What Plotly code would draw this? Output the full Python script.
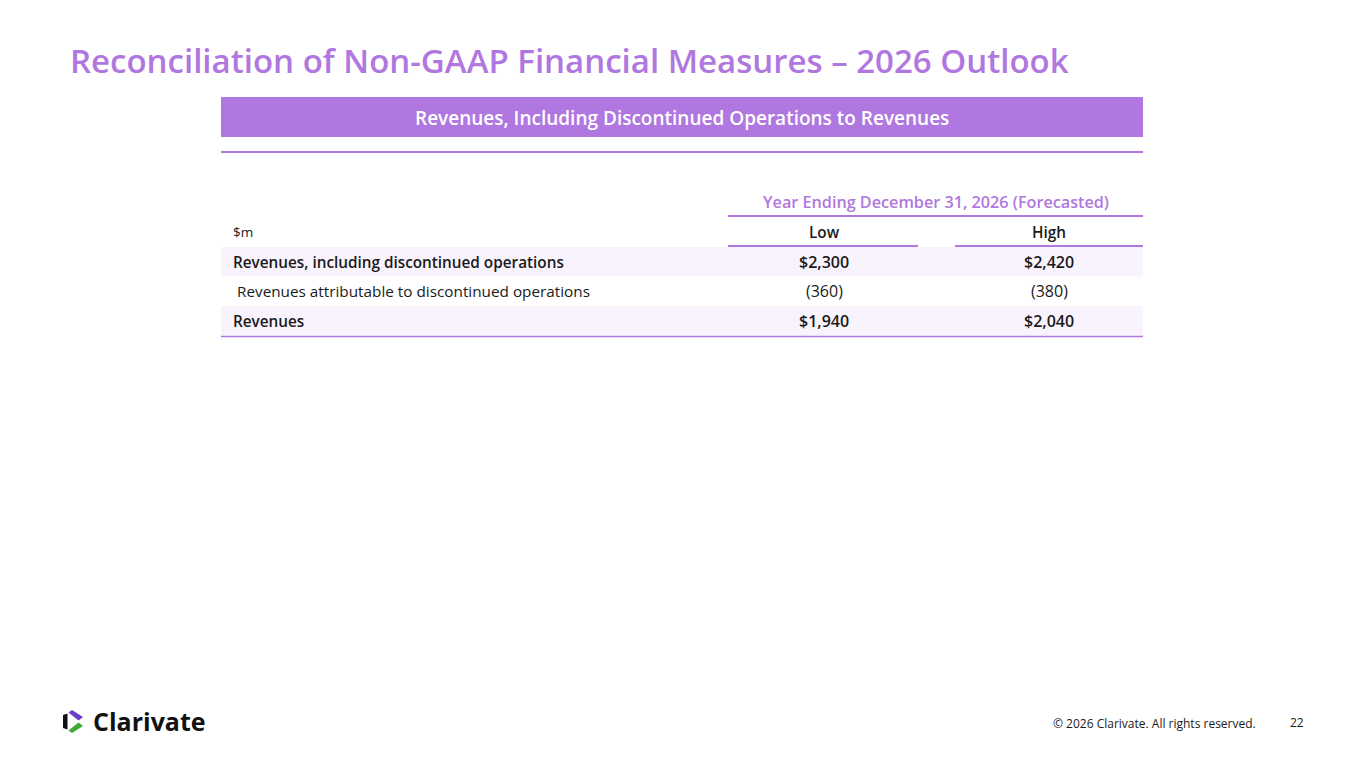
import plotly.graph_objects as go

# ---- data ----
title_text = "Reconciliation of Non-GAAP Financial Measures \u2013 2026 Outlook"
table_title = "Revenues, Including Discontinued Operations to Revenues"
period_label = "Year Ending December 31, 2026 (Forecasted)"
unit_label = "$m"
columns = ["Low", "High"]
row_labels = ["Revenues, including discontinued operations",
              " Revenues attributable to discontinued operations",
              "Revenues"]
row_bold = [True, False, True]
low_values = ["$2,300", "(360)", "$1,940"]
high_values = ["$2,420", "(380)", "$2,040"]
footer_text = "\u00a9 2026 Clarivate. All rights reserved."
page_number = "22"
brand = "Clarivate"

# ---- style ----
W, H = 1365, 766
OFF = 8  # page body margin
PURPLE = "#B077E0"
BAND = "#F9F3FD"
DARK = "#1a1a1a"
FONT = "Open Sans"
BODY = 15.3

fig = go.Figure()
shapes = []
ann = []

def text(x, y, s, size, color=DARK, weight=400, xanchor="left", family=FONT):
    ann.append(dict(x=x, y=y, text=s, showarrow=False,
                    xanchor=xanchor, yanchor="middle", xref="x", yref="y",
                    font=dict(family=family, size=size, color=color, weight=weight)))

def rect(x0, y0, x1, y1, color):
    shapes.append(dict(type="rect", x0=x0, y0=y0, x1=x1, y1=y1, xref="x", yref="y",
                       fillcolor=color, line=dict(width=0), layer="below"))

def hline(x0, x1, y, color=PURPLE, width=2):
    shapes.append(dict(type="line", x0=x0, x1=x1, y0=y, y1=y, xref="x", yref="y",
                       line=dict(color=color, width=width)))

# title
text(68, 60, title_text, 33, PURPLE, 600)

# table header bar
TL, TR = 221, 1143
rect(TL, 97, TR, 137, PURPLE)
text((TL + TR) / 2, 118, table_title, 19, "white", 600, "center")
hline(TL, TR, 152)

# period label
col_x = [824, 1049]
text(936, 202, period_label, 16.2, PURPLE, 600, "center")
hline(728, TR, 216)

text(231, 232, unit_label, 13.5)
for cx, c in zip(col_x, columns):
    text(cx, 232, c, BODY, DARK, 600, "center")
hline(728, 918, 246)
hline(955, TR, 246)

# rows
row_top = 247
row_h = 29.5
for i, (lab, b, lo, hi) in enumerate(zip(row_labels, row_bold, low_values, high_values)):
    y0 = row_top + i * row_h
    ym = y0 + row_h / 2
    if i % 2 == 0:
        rect(TL, y0, TR, y0 + row_h, BAND)
    w = 600 if b else 400
    text(231, ym, lab, BODY, DARK, w)
    text(col_x[0], ym, lo, BODY + 0.7, DARK, w, "center")
    text(col_x[1], ym, hi, BODY + 0.7, DARK, w, "center")
hline(TL, TR, row_top + len(row_labels) * row_h + 1, PURPLE, 1.5)

# footer
text(1258, 723, footer_text, 12, DARK, 400, "right")
text(1297, 722, page_number, 12, DARK, 400, "center")

# logo icon
shapes.append(dict(type="path", path="M 63 715 L 67.5 713.5 L 67.5 729.5 L 63 728 Z",
                   xref="x", yref="y", fillcolor="#111111", line=dict(width=0)))
shapes.append(dict(type="path", path="M 68.5 712.5 L 72 710 L 83 717 L 78.5 720.5 Z",
                   xref="x", yref="y", fillcolor="#6A3FC9", line=dict(width=0)))
shapes.append(dict(type="path", path="M 68.5 730.5 L 72 733 L 83 726 L 78.5 722.5 Z",
                   xref="x", yref="y", fillcolor="#3DAA35", line=dict(width=0)))
text(91, 721, brand, 25, "#111111", 700)

fig.update_layout(
    width=W - 2 * OFF, height=H - 2 * OFF,
    margin=dict(l=0, r=0, t=0, b=0),
    paper_bgcolor="white", plot_bgcolor="white",
    xaxis=dict(range=[OFF, W - OFF], visible=False, fixedrange=True),
    yaxis=dict(range=[H - OFF, OFF], visible=False, fixedrange=True),
    shapes=shapes, annotations=ann, showlegend=False,
)
fig.write_html("out.html", config={"displayModeBar": False})
